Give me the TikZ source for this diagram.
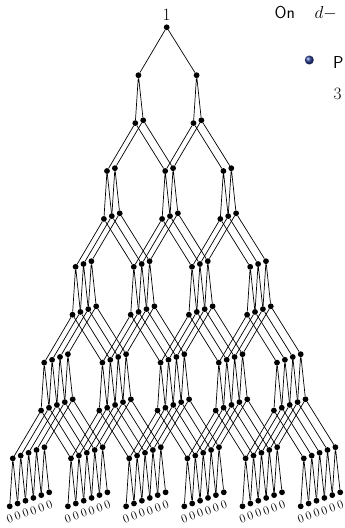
\documentclass[tikz,border=0pt]{standalone}
\usepackage{tikz}
\usetikzlibrary{positioning}
\definecolor{ballblue}{HTML}{283C96}

\begin{document}
\begin{tikzpicture}[x=1pt,y=-1pt,
  dot/.style={circle,fill=black,inner sep=0pt,minimum size=5.8pt},
  link/.style={line width=0.7pt},
  lbl/.style={inner sep=1.5pt,font=\fontsize{16}{18}\selectfont},
  zerolbl/.style={inner sep=0pt,rotate=20,font=\fontsize{11.5}{13}\selectfont},
  slidetext/.style={inner sep=0pt,anchor=base west,font=\fontsize{17.28}{20}\selectfont\sffamily},
  bullet/.style={circle,inner sep=0pt,minimum size=9pt,shading=ball,ball color=ballblue}]
  \useasboundingbox (0,0) rectangle (345,528);
  \node[dot] (v-0-0-0) at (166.7,27.3) {};
  \node[lbl,above=2.5pt of v-0-0-0] (top) {$1$};
  \foreach \r in {1,...,10} {
    \pgfmathtruncatemacro\dg{(\r+1)/2}
    \pgfmathtruncatemacro\vt{\r/2}
    \foreach \g in {0,...,\dg}
      \foreach \i in {0,...,\vt}
        \node[dot] (v-\r-\g-\i) at ({166.7-28.3*\dg-3.1*\vt+58.2*\g+7.9*\i},{27.3+47.9*\r-2.8*\i}) {};
  }
  \foreach \r in {0,2,...,8} {
    \pgfmathtruncatemacro\dg{\r/2}
    \pgfmathtruncatemacro\nx{\r+1}
    \foreach \g in {0,...,\dg} {
      \pgfmathtruncatemacro\gn{\g+1}
      \foreach \i in {0,...,\dg}
        \draw[link] (v-\nx-\g-\i) -- (v-\r-\g-\i) -- (v-\nx-\gn-\i);
    }
  }
  \foreach \r in {1,3,...,9} {
    \pgfmathtruncatemacro\dg{(\r+1)/2}
    \pgfmathtruncatemacro\vt{(\r-1)/2}
    \pgfmathtruncatemacro\nx{\r+1}
    \foreach \g in {0,...,\dg}
      \foreach \i in {0,...,\vt} {
        \pgfmathtruncatemacro\jn{\i+1}
        \draw[link] (v-\nx-\g-\i) -- (v-\r-\g-\i) -- (v-\nx-\g-\jn);
      }
  }
  \foreach \g in {0,...,5}
    \foreach \i in {0,...,5}
      \node[zerolbl] (z-\g-\i) at ([yshift=-12.5pt]v-10-\g-\i.center) {$0$};
  \node[slidetext] (head) at (274.5,18.3) {On};
  \node[slidetext] (headvar) at (314.5,18.3) {$d-$};
  \node[bullet] (ball) at (309.3,60) {};
  \node[slidetext] (item) at (333,68.3) {P};
  \node[slidetext] (itemnext) at (333.5,99.3) {$3$};
\end{tikzpicture}
\end{document}
